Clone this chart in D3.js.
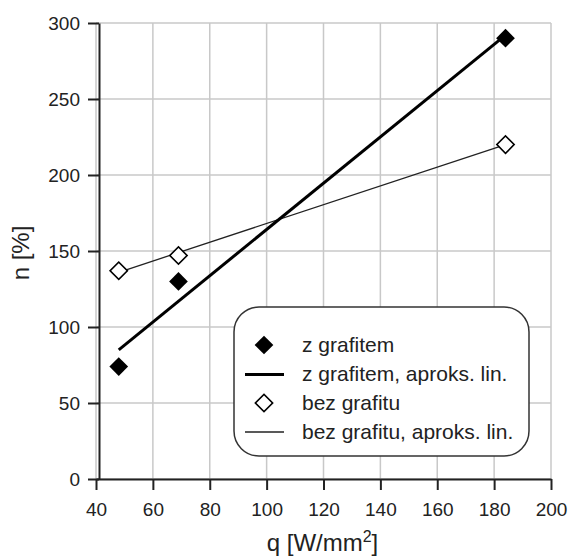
<!DOCTYPE html>
<meta charset="utf-8">
<style>
  body { margin: 0; background: #fff; }
  svg text { font-family: 'Liberation Sans', Arial, sans-serif; fill: #222; }
  .grid line { stroke: #c8c8c8; stroke-width: 1.5; }
  .axis path, .axis line { stroke: #222; stroke-width: 2; }
</style>
<body>
<div class="viz"></div>
<script src="https://d3js.org/d3.v7.min.js"></script>
<script>
// z grafitem (filled diamonds)
const qGraf = [48, 69, 184];
const nGraf = [74, 130, 290];
// bez grafitu (open diamonds)
const qBez = [48, 69, 184];
const nBez = [137, 147, 220];
// linear approximation lines
const fitGrafQ = [48, 184];
const fitGrafN = [85, 292];
const fitBezQ = [48, 184];
const fitBezN = [136, 220];

const xTicks = [40, 60, 80, 100, 120, 140, 160, 180, 200];
const yTicks = [0, 50, 100, 150, 200, 250, 300];
const legendLabels = ["z grafitem", "z grafitem, aproks. lin.", "bez grafitu", "bez grafitu, aproks. lin."];

const W = 569, H = 557;
const margin = {top: 23, right: 18, bottom: 78, left: 96};

const svg = d3.select(".viz").append("svg")
  .attr("width", W).attr("height", H);

const x = d3.scaleLinear().domain([40, 200]).range([margin.left, W - margin.right]);
const y = d3.scaleLinear().domain([0, 300]).range([H - margin.bottom, margin.top]);

// grid
const grid = svg.append("g").attr("class", "grid");
grid.selectAll(".v").data(xTicks).enter().append("line")
  .attr("x1", d => x(d)).attr("x2", d => x(d))
  .attr("y1", y(0)).attr("y2", y(300));
grid.selectAll(".h").data(yTicks).enter().append("line")
  .attr("x1", x(40)).attr("x2", x(200))
  .attr("y1", d => y(d)).attr("y2", d => y(d));

// axes
const xAxis = svg.append("g").attr("class", "axis")
  .attr("transform", "translate(0," + y(0) + ")")
  .call(d3.axisBottom(x).tickValues(xTicks).tickSize(11).tickSizeOuter(0).tickPadding(13));
xAxis.selectAll("text").style("font-size", "19px");

const yAxis = svg.append("g").attr("class", "axis")
  .attr("transform", "translate(" + (x(40) + 3) + ",0)")
  .call(d3.axisLeft(y).tickValues(yTicks).tickSize(11).tickSizeOuter(0).tickPadding(8));
yAxis.selectAll("text").style("font-size", "19px");

// axis titles
svg.append("text")
  .attr("x", (x(40) + x(200)) / 2 - 1).attr("y", 551)
  .attr("text-anchor", "middle").style("font-size", "24px")
  .html('q [W/mm<tspan dy="-9" style="font-size:16px">2</tspan><tspan dy="9">]</tspan>');

svg.append("text")
  .attr("transform", "translate(29," + (y(150) + 2) + ") rotate(-90)")
  .attr("text-anchor", "middle").style("font-size", "24px")
  .text("n [%]");

// fit lines
const line = d3.line().x(d => x(d[0])).y(d => y(d[1]));
svg.append("path").datum(d3.zip(fitBezQ, fitBezN))
  .attr("d", line).attr("fill", "none").attr("stroke", "#222").attr("stroke-width", 1.3);
svg.append("path").datum(d3.zip(fitGrafQ, fitGrafN))
  .attr("d", line).attr("fill", "none").attr("stroke", "#000").attr("stroke-width", 3);

// markers
const diamond = d3.symbol().type(d3.symbolSquare).size(150);
svg.selectAll(".bez").data(d3.zip(qBez, nBez)).enter().append("path")
  .attr("d", diamond)
  .attr("transform", d => "translate(" + x(d[0]) + "," + y(d[1]) + ") rotate(45)")
  .attr("fill", "#fff").attr("stroke", "#000").attr("stroke-width", 1.6);
svg.selectAll(".graf").data(d3.zip(qGraf, nGraf)).enter().append("path")
  .attr("d", d3.symbol().type(d3.symbolSquare).size(175))
  .attr("transform", d => "translate(" + x(d[0]) + "," + y(d[1]) + ") rotate(45)")
  .attr("fill", "#000");

// legend
const lg = svg.append("g");
lg.append("rect")
  .attr("x", 234).attr("y", 307).attr("width", 295).attr("height", 149)
  .attr("rx", 25).attr("ry", 25)
  .attr("fill", "#fff").attr("stroke", "#333").attr("stroke-width", 1.5);

const rowY = [345, 374.5, 403, 432];
legendLabels.forEach((t, i) => {
  lg.append("text").attr("x", 302).attr("y", rowY[i] + 6.8)
    .style("font-size", "21px").text(t);
});
lg.append("path").attr("d", d3.symbol().type(d3.symbolSquare).size(175))
  .attr("transform", "translate(264," + rowY[0] + ") rotate(45)").attr("fill", "#000");
lg.append("line").attr("x1", 245).attr("x2", 284).attr("y1", rowY[1]).attr("y2", rowY[1])
  .attr("stroke", "#000").attr("stroke-width", 3);
lg.append("path").attr("d", diamond)
  .attr("transform", "translate(264," + rowY[2] + ") rotate(45)")
  .attr("fill", "#fff").attr("stroke", "#000").attr("stroke-width", 1.6);
lg.append("line").attr("x1", 245).attr("x2", 284).attr("y1", rowY[3]).attr("y2", rowY[3])
  .attr("stroke", "#222").attr("stroke-width", 1.3);
</script>
</body>
